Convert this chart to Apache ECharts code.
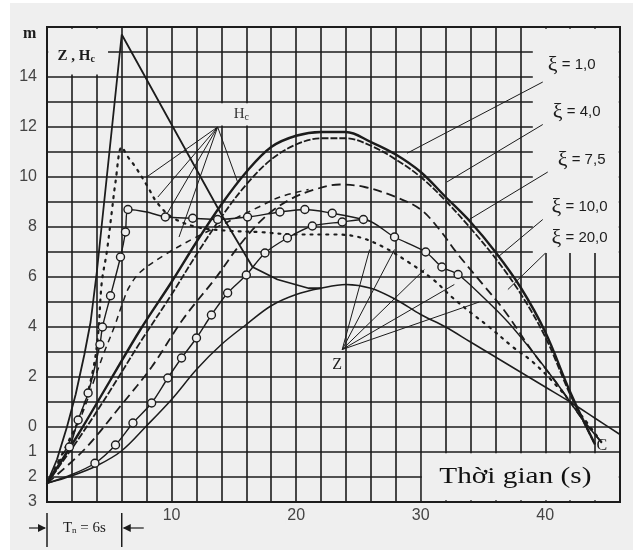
<!DOCTYPE html>
<html>
<head>
<meta charset="utf-8">
<script src="https://cdn.jsdelivr.net/npm/echarts@6/dist/echarts.min.js"></script>
<style>
  html, body { margin: 0; padding: 0; background: #ffffff; }
  #wrap { position: relative; width: 636px; height: 552px; overflow: hidden; background: #ffffff; }
  #chart { position: absolute; left: 10px; top: 3px; width: 623px; height: 547px; background: #efefef; }
</style>
</head>
<body>
<div id="wrap"><div id="chart"></div></div>
<script>
// Water level Z and depth Hc versus time, for several loss coefficients xi.
// Each curve: [time (s), level (m)]; the third value on circle curves marks a drawn circle.

const xTickLabels = [10, 20, 30, 40];
const xiNames = ['1,0', '4,0', '7,5', '10,0', '20,0'];

// Z curves
const zXi1 = [[0,-2.25],[2.5,-0.3],[5,1.8],[7.5,3.9],[10,5.8],[12,7.4],[14,8.9],[16,10.2],[18,11.2],[20,11.65],[22,11.8],[24,11.8],[26,11.4],[28,10.9],[30,10.2],[32,9.2],[34,8.2],[36,7.0],[38,5.6],[40,3.8],[42,1.4],[44,-0.7]];
const zXi4 = [[0,-2.25],[2.5,-0.5],[5,1.4],[7.5,3.4],[10,5.3],[12,6.9],[14,8.4],[16,9.7],[18,10.7],[20,11.3],[22,11.55],[24,11.55],[26,11.25],[28,10.7],[30,10.0],[32,9.05],[34,7.95],[36,6.75],[38,5.35],[40,3.6],[42,1.3],[44,-0.7]];
const zXi75 = [[0,-2.25],[3,-0.9],[6,0.9],[8.4,2.4],[10.9,4.3],[13.6,6.0],[15.5,7.3],[17.5,8.4],[19.5,9.1],[21.5,9.5],[23.5,9.7],[25.5,9.6],[28,9.2],[30,8.7],[31.5,7.9],[33,6.9],[35,5.7],[36.8,4.6],[39,3.0],[41,1.7],[43,0.3],[44.5,-0.6]];
const zXi10 = [[0,-2.25,0],[2,-1.9,0],[3.85,-1.45,1],[5.5,-0.72,1],[6.9,0.16,1],[8.4,0.96,1],[9.7,1.96,1],[10.8,2.76,1],[12,3.56,1],[13.2,4.48,1],[14.5,5.36,1],[16,6.08,1],[17.5,6.96,1],[19.3,7.56,1],[21.3,8.04,1],[23.7,8.2,1],[25.4,8.3,1],[27.9,7.6,1],[30.4,7.0,1],[31.7,6.4,1],[33,6.1,1],[35,5.2,0],[37,4.2,0],[39,3.0,0],[41,1.7,0],[43,0.3,0],[44.5,-0.6,0]];
const zXi20 = [[0,-2.25],[2,-1.95],[4,-1.55],[6,-0.95],[8,0.05],[10,1.1],[12,2.3],[14,3.3],[16,4.1],[18,4.85],[20,5.3],[22,5.55],[24,5.7],[26,5.55],[28,5.1],[30,4.5],[32,4.0],[34,3.4],[36,2.8],[38,2.2],[40,1.6],[42,1.0],[44,0.35],[46,-0.3]];

// Hc curves
const hcXi1 = [[0,-2.25],[0.8,-1.3],[1.6,0],[2.3,1.3],[3.0,2.9],[3.5,4.2],[4,6.2],[6,15.7],[10,12.1],[12,10.3],[14,8.5],[16.5,6.4],[18.5,5.9],[21,5.55],[22,5.55]];
const hcXi4 = [[0,-2.25],[1.5,-0.8],[2.8,0.6],[3.7,2.3],[4.1,3.7],[4.4,5.8],[4.8,7.0],[5.2,8.6],[5.5,9.8],[6,11.2],[6.5,10.8],[7.1,10.4],[8.1,9.6],[8.8,9.0],[10,8.4],[12,8.0],[14.5,7.85],[17,7.8],[20,7.7],[23,7.7],[25,7.6],[27,7.2],[29,6.6],[31,5.9],[32.5,5.2],[34.2,4.5],[35.5,4.0],[37.4,3.2],[39,2.6],[41,1.6],[43,0.4],[44.5,-0.6]];
const hcXi75 = [[0,-2.25],[1.5,-0.9],[2.8,0.5],[3.8,1.9],[4.6,3.0],[5.4,4.0],[6.1,5.0],[6.6,5.6],[7.5,6.2],[9.5,6.9],[12,7.6],[14.5,8.2],[17,8.8],[18.7,9.2],[21,9.5]];
const hcXi10 = [[0,-2.25,0],[1.8,-0.8,1],[2.5,0.28,1],[3.3,1.36,1],[4.25,3.3,1],[4.45,4.0,1],[5.1,5.25,1],[5.9,6.8,1],[6.3,7.8,1],[6.5,8.7,1],[8,8.6,0],[9.5,8.4,1],[11.7,8.35,1],[13.7,8.3,1],[16.1,8.4,1],[18.7,8.6,1],[20.7,8.7,1],[22.9,8.55,1],[25.4,8.3,0]];

// Leader lines from the labels to the curves
const xiLeaders = [
  [[39.8,13.8],[28.9,10.95]],
  [[39.8,12.1],[32.1,9.8]],
  [[40.2,10.2],[33.9,8.3]],
  [[39.8,8.3],[36.2,6.8]],
  [[40.0,6.95],[37.0,5.5]]
];
const hcFan = [[13.7,12.0],[[8.0,10.0],[8.9,9.2],[9.6,8.5],[10.6,7.6],[15.3,9.8]]];
const zFan = [[23.7,3.1],[[25.9,7.1],[27.9,7.1],[30.3,6.3],[32.7,5.7],[34.7,5.0]]];

const INK = '#1c1c1c';
const BG = '#efefef';

function curve(name, data, lineStyle, smooth) {
  return {
    name: name, type: 'line', data: data.map(p => [p[0], p[1]]),
    symbol: 'none', smooth: smooth === undefined ? 0.35 : smooth,
    lineStyle: Object.assign({ color: INK, width: 1.6 }, lineStyle),
    silent: true, z: 3
  };
}
function circleCurve(name, data) {
  return {
    name: name, type: 'line', smooth: 0.3, silent: true, z: 4,
    data: data.map(p => ({ value: [p[0], p[1]], symbol: p[2] ? 'circle' : 'none' })),
    symbolSize: 8, showAllSymbol: true,
    itemStyle: { color: BG, borderColor: INK, borderWidth: 1.4 },
    lineStyle: { color: INK, width: 1.4 }
  };
}
function segment(a, b) {
  return { type: 'line', data: [a, b], symbol: 'none', silent: true, z: 3,
           lineStyle: { color: INK, width: 1 } };
}

const series = [
  curve('Z ξ=1,0', zXi1, { width: 2.4 }),
  curve('Z ξ=4,0', zXi4, { width: 1.8, type: [7, 2] }),
  curve('Z ξ=7,5', zXi75, { width: 1.8, type: [9, 5] }),
  circleCurve('Z ξ=10,0', zXi10),
  curve('Z ξ=20,0', zXi20, { width: 1.5 }),
  curve('Hc ξ=1,0', hcXi1, { width: 1.8 }, false),
  curve('Hc ξ=4,0', hcXi4, { width: 2.2, type: [2, 6], cap: 'round' }),
  curve('Hc ξ=7,5', hcXi75, { width: 1.5, type: [6, 5] }),
  circleCurve('Hc ξ=10,0', hcXi10)
];
xiLeaders.forEach(s => series.push(segment(s[0], s[1])));
hcFan[1].forEach(p => series.push(segment(hcFan[0], p)));
zFan[1].forEach(p => series.push(segment(zFan[0], p)));

const chart = echarts.init(document.getElementById('chart'), null, { renderer: 'canvas' });
chart.setOption({
  animation: false,
  backgroundColor: BG,
  grid: { left: 37, top: 24, width: 573, height: 475, show: true, borderColor: INK, borderWidth: 2, backgroundColor: 'transparent' },
  xAxis: [{
    type: 'value', min: 0, max: 46, interval: 2,
    axisLine: { show: false, onZero: true }, axisTick: { show: false },
    splitLine: { show: true, lineStyle: { color: INK, width: 1.6 } },
    axisLabel: {
      margin: 6, fontSize: 16, color: '#444', fontFamily: 'Liberation Sans Narrow, Arial Narrow, sans-serif',
      backgroundColor: BG, padding: [0, 2],
      formatter: v => xTickLabels.indexOf(v) >= 0 ? String(v) : ''
    }
  }],
  yAxis: [{
    type: 'value', min: -3, max: 16, interval: 1,
    axisLine: { show: false }, axisTick: { show: false },
    splitLine: { show: true, lineStyle: { color: INK, width: 1.6 } },
    axisLabel: {
      margin: 10, fontSize: 16, color: '#444', fontFamily: 'Liberation Sans Narrow, Arial Narrow, sans-serif',
      formatter: v => {
        if (v === 0) return '0';
        if (v < 0) return String(-v);
        if (v < 16 && v % 2 === 0) return String(v);
        return '';
      }
    }
  }],
  series: series
});

// Annotations placed in data coordinates
const px = p => chart.convertToPixel({ gridIndex: 0 }, p);
function blank(a, b) {
  const p = px(a), q = px(b);
  return { type: 'rect', z: 1, silent: true,
    shape: { x: Math.min(p[0], q[0]), y: Math.min(p[1], q[1]), width: Math.abs(q[0] - p[0]), height: Math.abs(q[1] - p[1]) },
    style: { fill: BG } };
}
function label(at, text, style, extra) {
  const p = px(at);
  return Object.assign({ type: 'text', z: 10, silent: true, x: p[0], y: p[1],
    style: Object.assign({ text: text, fill: INK, align: 'center', verticalAlign: 'middle' }, style) }, extra || {});
}

const serif = 'Liberation Serif, Times New Roman, serif';
const sans = 'Liberation Sans Narrow, Arial Narrow, sans-serif';
const xiLabelAt = [[40.2,14.48],[40.6,12.6],[41.0,10.68],[40.5,8.8],[40.5,7.56]];

const graphic = [
  blank([0.1,14.1],[4.9,15.93]),
  blank([13.75,12.06],[17.2,12.95]),
  blank([39.0,6.96],[45.9,15.93]),
  blank([30.1,-1.05],[45.9,-2.93]),
  label([-1.4,15.72], 'm', { font: 'bold 16px ' + serif }),
  label([2.35,14.84], '{a|Z , H}{b|c}', { rich: { a: { font: 'bold 15px ' + serif, fill: INK }, b: { font: 'bold 10px ' + serif, fill: INK, padding: [6,0,0,0] } } }),
  label([15.6,12.52], '{a|H}{b|c}', { rich: { a: { font: '15px ' + serif, fill: '#333' }, b: { font: '10px ' + serif, fill: '#333', padding: [6,0,0,0] } } }),
  label([23.3,2.48], 'Z', { font: '16px ' + serif }),
  label([44.55,-0.75], 'C', { font: '16px ' + serif }),
  label([37.6,-2.0], 'Thời gian (s)', { font: '24px ' + serif, fill: '#111' }, { scaleX: 1.22, originX: 0, originY: 0 })
];
xiLabelAt.forEach((at, i) => {
  graphic.push(label(at, '{x|ξ}{t| = ' + xiNames[i] + '}', { align: 'left',
    rich: { x: { font: '22px ' + serif, fill: INK }, t: { font: '15px ' + sans, fill: INK } } }));
});

// Base period marker below the axis: →|Tn = 6s|←
const t0 = px([0, -4.04]), t6 = px([6, -4.04]);
const yTop = px([0, -3.44])[1], yBot = px([0, -4.8])[1];
graphic.push(
  { type: 'line', z: 10, shape: { x1: t0[0], y1: yTop, x2: t0[0], y2: yBot }, style: { stroke: INK, lineWidth: 1.5 } },
  { type: 'line', z: 10, shape: { x1: t6[0], y1: yTop, x2: t6[0], y2: yBot }, style: { stroke: INK, lineWidth: 1.5 } },
  { type: 'line', z: 10, shape: { x1: t0[0] - 18, y1: t0[1], x2: t0[0] - 2, y2: t0[1] }, style: { stroke: INK, lineWidth: 1.2 } },
  { type: 'polygon', z: 10, shape: { points: [[t0[0] - 1, t0[1]], [t0[0] - 9, t0[1] - 4], [t0[0] - 9, t0[1] + 4]] }, style: { fill: INK } },
  { type: 'line', z: 10, shape: { x1: t6[0] + 2, y1: t6[1], x2: t6[0] + 22, y2: t6[1] }, style: { stroke: INK, lineWidth: 1.2 } },
  { type: 'polygon', z: 10, shape: { points: [[t6[0] + 1, t6[1]], [t6[0] + 9, t6[1] - 4], [t6[0] + 9, t6[1] + 4]] }, style: { fill: INK } },
  label([3, -4.04], '{a|T}{b|n}{a| = 6s}', { rich: { a: { font: '15px ' + serif, fill: INK }, b: { font: '9px ' + serif, fill: INK, padding: [5,0,0,0] } } })
);

chart.setOption({ graphic: graphic });
</script>
</body>
</html>
